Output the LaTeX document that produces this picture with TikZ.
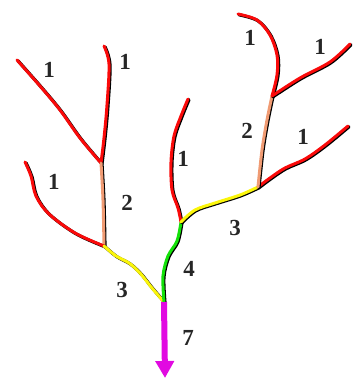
\documentclass[tikz,border=0pt]{standalone}
\usepackage{fontspec}
\setmainfont{Liberation Serif}
\usetikzlibrary{arrows.meta}
\definecolor{rred}{RGB}{250,10,10}
\definecolor{rorange}{RGB}{240,155,115}
\definecolor{ryellow}{RGB}{250,245,10}
\definecolor{rgreen}{RGB}{20,225,10}
\definecolor{rmag}{RGB}{225,10,225}
\tikzset{
  riv/.style={line width=3pt, line cap=round, line join=round},
  rshadow/.style={riv, black, line width=3.2pt, transform canvas={shift={(1pt,-0.8pt)}}},
  lab/.style={font=\fontsize{23}{23}\selectfont\bfseries, text=black!85, inner sep=0pt}
}
\newcommand\rvr[2]{%
  \draw[rshadow] plot[smooth,tension=0.55] coordinates {#2};
  \draw[riv,#1] plot[smooth,tension=0.55] coordinates {#2};}
\begin{document}
\begin{tikzpicture}[x=1pt,y=-1pt]
\useasboundingbox (0,0) rectangle (354,381);
% junctions and sources
\coordinate (j0) at (164,302);
\coordinate (j1) at (101,163);
\coordinate (j2) at (104,246);
\coordinate (j3) at (181,222);
\coordinate (j4) at (258,187);
\coordinate (j5) at (272,96);
\coordinate (t1) at (17,60);
\coordinate (t2) at (104,46);
\coordinate (t3) at (25,162);
\coordinate (t4) at (188,99);
\coordinate (t5) at (348,126);
\coordinate (t6) at (238,14);
\coordinate (t7) at (350,44);
\coordinate (out) at (165,378);
% left tree
\rvr{rred}{(t1) (40,86) (60,110) (80,138) (j1)}
\rvr{rred}{(t2) (109,64) (107,105) (104,138) (j1)}
\rvr{rorange}{(j1) (103,200) (j2)}
\rvr{rred}{(t3) (31,176) (36,196) (49,214) (75,233) (j2)}
\rvr{ryellow}{(j2) (116,256) (129,263) (140,273) (152,288) (j0)}
% middle
\rvr{rgreen}{(j0) (163,276) (168,256) (177,241) (j3)}
\rvr{rred}{(t4) (181,116) (174,136) (171,162) (172,190) (178,208) (j3)}
\rvr{ryellow}{(j3) (195,210) (215,203) (240,195) (j4)}
% right tree
\rvr{rred}{(j4) (270,178) (285,168) (305,159) (325,145) (t5)}
\rvr{rorange}{(j4) (262,150) (267,120) (j5)}
\rvr{rred}{(j5) (277,75) (277,55) (270,35) (257,20) (t6)}
\rvr{rred}{(j5) (300,78) (330,62) (t7)}
% outlet arrow
\draw[rmag, line width=6pt, -{Triangle[width=18pt,length=17pt]}] (j0) -- (out);
% labels
\node[lab] (l1) at (49,70) {1};
\node[lab] (l2) at (125,62) {1};
\node[lab] (l3) at (54,182) {1};
\node[lab] (l4) at (127,203) {2};
\node[lab] (l5) at (122,290) {3};
\node[lab] (l6) at (183,159) {1};
\node[lab] (l7) at (189,269) {4};
\node[lab] (l8) at (188,338) {7};
\node[lab] (l9) at (235,228) {3};
\node[lab] (l10) at (247,131) {2};
\node[lab] (l11) at (303,137) {1};
\node[lab] (l12) at (250,38) {1};
\node[lab] (l13) at (320,47) {1};
\end{tikzpicture}
\end{document}
